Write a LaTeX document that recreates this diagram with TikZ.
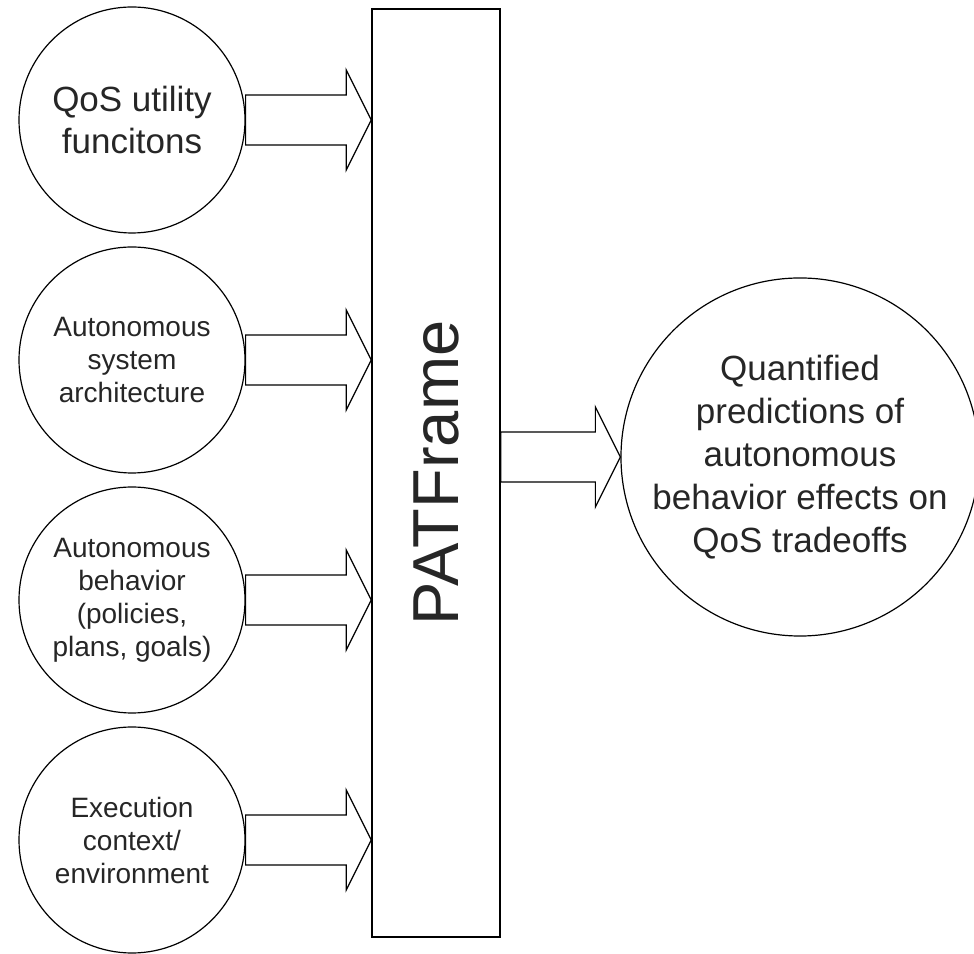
\documentclass[tikz,border=0pt]{standalone}
\usepackage{fontspec}
\setmainfont{Liberation Sans}
\usetikzlibrary{calc}
\tikzset{
  incircle/.style={circle, draw=black, line width=1.2pt, minimum size=226pt, inner sep=0pt, align=center, text=black!85, font=\fontsize{28}{33}\selectfont},
  outcircle/.style={circle, draw=black, line width=1.2pt, minimum size=346pt, inner sep=0pt, align=center, text=black!85, font=\fontsize{35}{43}\selectfont},
  framebox/.style={rectangle, draw=black, line width=1.5pt, minimum width=128pt, minimum height=928pt, inner sep=0pt},
  blockarrow/.style={draw=black, line width=1.2pt, line join=miter},
}
\newcommand{\blockarr}[2]{%
  \draw[blockarrow] ($(#1)+(0,25)$) -- ($(#2)+(-25,25)$) -- ($(#2)+(-25,50)$) -- (#2)
    -- ($(#2)+(-25,-50)$) -- ($(#2)+(-25,-25)$) -- ($(#1)+(0,-25)$) -- cycle;}
\begin{document}
\begin{tikzpicture}[x=1pt,y=1pt]
\useasboundingbox (0,0) rectangle (974,953);
\node[incircle, font=\fontsize{35}{42}\selectfont] (c1) at (132,833) {QoS utility\\funcitons};
\node[incircle] (c2) at (132,593) {Autonomous\\system\\architecture};
\node[incircle] (c3) at (132,353) {Autonomous\\behavior\\(policies,\\plans, goals)};
\node[incircle] (c4) at (132,113) {Execution\\context/\\environment};
\node[framebox] (frame) at (436,480) {};
\node[rotate=90, text=black!85, font=\fontsize{65}{70}\selectfont, inner sep=0pt] (patlabel) at (frame.center) {PATFrame};
\node[outcircle] (out) at (800,496) {Quantified\\predictions of\\autonomous\\behavior effects on\\QoS tradeoffs};
\coordinate (t1) at (frame.west |- c1.east);
\coordinate (t2) at (frame.west |- c2.east);
\coordinate (t3) at (frame.west |- c3.east);
\coordinate (t4) at (frame.west |- c4.east);
\coordinate (s5) at (frame.east |- out.west);
\blockarr{c1.east}{t1}
\blockarr{c2.east}{t2}
\blockarr{c3.east}{t3}
\blockarr{c4.east}{t4}
\blockarr{s5}{out.west}
\end{tikzpicture}
\end{document}
